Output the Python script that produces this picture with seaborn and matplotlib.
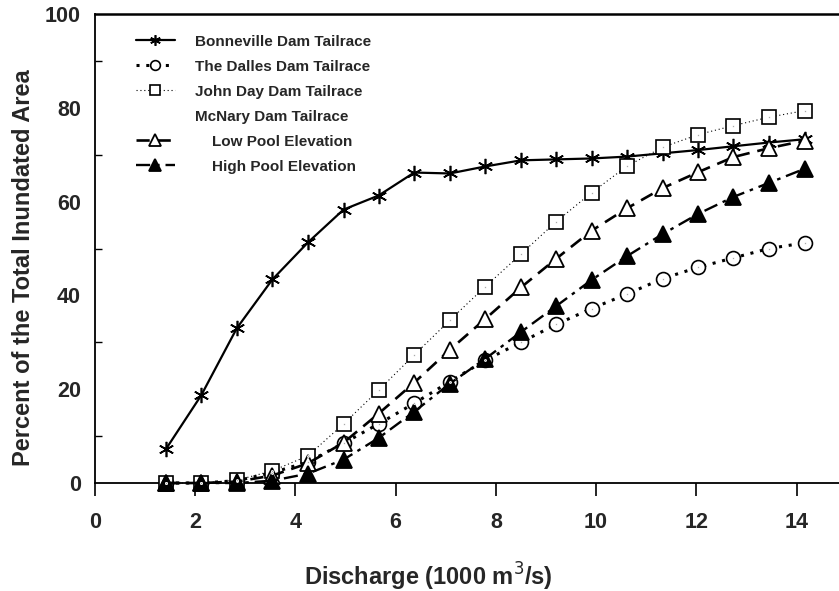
import matplotlib
matplotlib.use("Agg")
import matplotlib.pyplot as plt
from matplotlib.lines import Line2D
import seaborn as sns
import pandas as pd

# ---- data ----
discharge = [1.42, 2.12, 2.83, 3.54, 4.25, 4.96, 5.66, 6.37, 7.08, 7.79,
             8.50, 9.20, 9.91, 10.62, 11.33, 12.04, 12.74, 13.45, 14.16]
bonneville = [7.3, 18.7, 33.0, 43.4, 51.3, 58.3, 61.3, 66.2, 66.0, 67.5,
              68.8, 69.0, 69.2, 69.6, 70.3, 71.0, 71.8, 72.6, 73.3]
the_dalles = [0.0, 0.0, 0.5, 2.2, 4.5, 8.5, 12.6, 17.0, 21.6, 26.2,
              30.0, 33.8, 37.2, 40.3, 43.6, 46.0, 48.0, 50.0, 51.2]
john_day = [0.0, 0.0, 0.6, 2.6, 5.8, 12.6, 19.8, 27.3, 34.7, 41.9,
            48.8, 55.7, 61.9, 67.6, 71.6, 74.3, 76.2, 78.0, 79.4]
low_pool = [0.0, 0.0, 0.3, 1.6, 4.2, 8.6, 14.8, 21.4, 28.4, 35.0,
            41.7, 47.8, 53.8, 58.6, 62.9, 66.3, 69.5, 71.4, 73.0]
high_pool = [0.0, 0.0, 0.0, 0.5, 2.0, 5.0, 9.6, 15.2, 21.2, 26.5,
             32.2, 37.7, 43.3, 48.4, 53.1, 57.4, 61.0, 64.0, 67.0]

series_names = ["Bonneville Dam Tailrace", "The Dalles Dam Tailrace",
                "John Day Dam Tailrace", "Low Pool Elevation", "High Pool Elevation"]
legend_labels = ["Bonneville Dam Tailrace", "The Dalles Dam Tailrace",
                 "John Day Dam Tailrace", "McNary Dam Tailrace",
                 "    Low Pool Elevation", "    High Pool Elevation"]
x_ticks = [0, 2, 4, 6, 8, 10, 12, 14]
y_ticks = [0, 20, 40, 60, 80, 100]

sns.set_theme(style="white")
plt.rcParams["font.family"] = ["Liberation Sans", "DejaVu Sans"]

fig = plt.figure(figsize=(8.39, 5.91), dpi=100)
ax = fig.add_axes([0.1132, 0.1827, 0.887, 0.7936])

values = [bonneville, the_dalles, john_day, low_pool, high_pool]
styles = [
    dict(marker=(6, 2, 0), markersize=11, mew=1.2, mfc="black", mec="black",
         linestyle="-", linewidth=1.6),
    dict(marker="o", markersize=10, mew=1.2, mfc="white", mec="black",
         linestyle=(0, (1, 2.2)), linewidth=2.2),
    dict(marker="s", markersize=10, mew=1.2, mfc="white", mec="black",
         linestyle=(0, (1, 2.5)), linewidth=0.8),
    dict(marker="^", markersize=12, mew=1.3, mfc="white", mec="black",
         linestyle=(0, (5, 3)), linewidth=1.9),
    dict(marker="^", markersize=12, mew=1.3, mfc="black", mec="black",
         linestyle=(0, (6, 2.5, 1.5, 2.5)), linewidth=1.7),
]

for name, yv, st in zip(series_names, values, styles):
    df = pd.DataFrame({"Discharge": discharge, "Percent": yv})
    sns.lineplot(data=df, x="Discharge", y="Percent", ax=ax, color="black",
                 clip_on=False, zorder=3, **st)
    if st["mfc"] == "white" and st["marker"] in ("o", "s"):
        sns.lineplot(data=df, x="Discharge", y="Percent", ax=ax, color="black",
                     marker=".", markersize=2.5, linestyle="none", zorder=4,
                     clip_on=False)

ax.set_xlim(0, 14.85)
ax.set_ylim(0, 100)
ax.set_xticks(x_ticks)
ax.set_yticks(y_ticks)
ax.set_yticks([10, 30, 50, 70, 90], minor=True)
ax.set_xticklabels([str(t) for t in x_ticks], fontsize=15.5, fontweight="bold")
ax.set_yticklabels([str(t) for t in y_ticks], fontsize=15.5, fontweight="bold")
ax.tick_params(axis="x", which="major", direction="out", length=9, width=1.2,
               pad=12, bottom=True, color="black")
ax.tick_params(axis="y", which="both", direction="in", length=5, width=1.0,
               pad=10, left=True, color="black")
ax.tick_params(axis="y", which="major", length=0)

for side in ["left", "bottom", "top"]:
    ax.spines[side].set_color("black")
    ax.spines[side].set_linewidth(1.3)
ax.spines["right"].set_visible(False)
ax.spines["top"].set_linewidth(1.8)

ax.set_xlabel("Discharge (1000 m$^3$/s)", fontsize=17, fontweight="bold")
ax.set_ylabel("Percent of the Total Inundated Area", fontsize=17,
              fontweight="bold")
ax.xaxis.set_label_coords(0.4476, -0.165)
ax.yaxis.set_label_coords(-0.081, 0.46)

handles = []
for i, st in enumerate(styles):
    kw = dict(st)
    kw["markersize"] = kw["markersize"] * 0.7
    handles.append(Line2D([], [], color="black", **kw))
blank = Line2D([], [], linestyle="none", marker="none")
leg_handles = handles[:3] + [blank] + handles[3:]
leg = ax.legend(leg_handles, legend_labels, loc="upper left",
                bbox_to_anchor=(0.036, 0.985), frameon=False,
                handlelength=2.6, handletextpad=1.3, labelspacing=0.72,
                prop=dict(family="Liberation Sans", weight="bold", size=11))

fig.savefig("out.png", dpi=100)
